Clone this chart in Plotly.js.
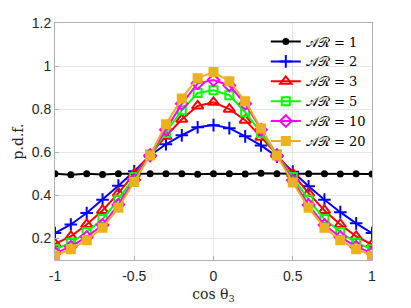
<!DOCTYPE html>
<html><head><meta charset="utf-8">
<script src="https://cdn.plot.ly/plotly-3.0.1.min.js"></script>
<style>html,body{margin:0;padding:0;background:#fff}#c{width:411px;height:308px}</style>
</head><body><div id="c"></div>
<script>
const cosTheta = [-1,-0.9,-0.8,-0.7,-0.6,-0.5,-0.4,-0.3,-0.2,-0.1,0,0.1,0.2,0.3,0.4,0.5,0.6,0.7,0.8,0.9,1];
const ar1  = [0.500,0.496,0.500,0.497,0.500,0.499,0.500,0.500,0.500,0.498,0.500,0.500,0.499,0.503,0.500,0.500,0.500,0.500,0.499,0.500,0.499];
const ar2  = [0.225,0.265,0.318,0.380,0.445,0.512,0.585,0.637,0.679,0.716,0.726,0.712,0.674,0.632,0.580,0.510,0.442,0.380,0.322,0.270,0.225];
const ar3  = [0.175,0.210,0.265,0.330,0.410,0.500,0.590,0.674,0.753,0.815,0.832,0.800,0.749,0.670,0.590,0.500,0.410,0.330,0.265,0.210,0.172];
const ar5  = [0.150,0.180,0.230,0.290,0.380,0.485,0.590,0.690,0.795,0.875,0.888,0.865,0.786,0.690,0.590,0.485,0.380,0.290,0.230,0.180,0.150];
const ar10 = [0.132,0.162,0.207,0.262,0.357,0.472,0.585,0.705,0.825,0.920,0.935,0.910,0.825,0.705,0.585,0.470,0.355,0.262,0.207,0.162,0.132];
const ar20 = [0.120,0.150,0.192,0.250,0.342,0.462,0.585,0.730,0.850,0.944,0.972,0.930,0.837,0.710,0.585,0.460,0.342,0.250,0.192,0.150,0.120];
const names = ['𝒜ℛ = 1','𝒜ℛ = 2','𝒜ℛ = 3','𝒜ℛ = 5','𝒜ℛ = 10','𝒜ℛ = 20'];
const series = [ar1,ar2,ar3,ar5,ar10,ar20];
const colors = ['#000000','#0000ff','#ff0000','#00ff00','#ff00ff','#edb120'];
const symbols = ['circle','cross-thin-open','triangle-up-open','square-open','diamond-open','square'];
const sizes = [5,9,10,8,9,8];

const traces = series.map((y,i)=>({
  x: cosTheta, y: y, name: names[i], type:'scatter', mode:'lines+markers',
  line:{color:colors[i], width:2},
  marker:{symbol:symbols[i], size:sizes[i], color:colors[i], line:{color:colors[i], width:2}}
}));

const axisCommon = {
  showline:true, mirror:true, linecolor:'#b0b0b0', linewidth:1,
  showgrid:true, gridcolor:'#e6e6e6', gridwidth:1, zeroline:false,
  ticks:'inside', ticklen:4, tickcolor:'#b0b0b0',
  tickfont:{family:'Liberation Sans, Arial, sans-serif', size:14, color:'#262626'}
};

const layout = {
  width:411, height:308,
  margin:{l:55, r:39, t:23, b:48},
  paper_bgcolor:'#fff', plot_bgcolor:'#fff',
  showlegend:true,
  legend:{x:0.665, y:0.985, xanchor:'left', yanchor:'top', bgcolor:'rgba(0,0,0,0)',
    font:{family:'DejaVu Serif, serif', size:13, color:'#000'}, tracegroupgap:0, itemwidth:30},
  xaxis: Object.assign({}, axisCommon, {range:[-1,1], tickvals:[-1,-0.5,0,0.5,1], ticktext:['-1','-0.5','0','0.5','1'],
    ticklabelstandoff:3,
    title:{text:'cos θ<sub>3</sub>', font:{family:'DejaVu Serif, serif', size:14, color:'#262626'}, standoff:6}}),
  yaxis: Object.assign({}, axisCommon, {range:[0.1,1.2], tickvals:[0.2,0.4,0.6,0.8,1,1.2], ticktext:['0.2','0.4','0.6','0.8','1','1.2'],
    title:{text:'p.d.f.', font:{family:'DejaVu Serif, serif', size:14, color:'#262626'}, standoff:4}})
};

Plotly.newPlot('c', traces, layout, {displayModeBar:false, staticPlot:true});
</script></body></html>
